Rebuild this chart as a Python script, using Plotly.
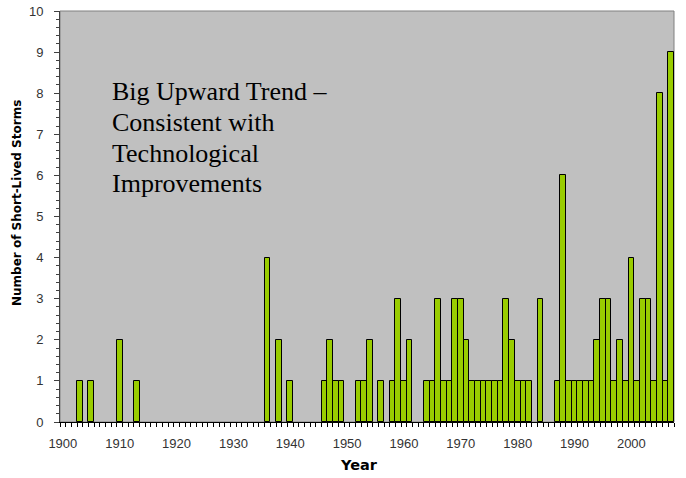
import plotly.graph_objects as go

years = [1903, 1905, 1910, 1913, 1936, 1938, 1940,
         1946, 1947, 1948, 1949, 1952, 1953, 1954, 1956, 1958, 1959, 1960, 1961,
         1964, 1965, 1966, 1967, 1968, 1969, 1970, 1971, 1972, 1973, 1974, 1975,
         1976, 1977, 1978, 1979, 1980, 1981, 1982, 1984,
         1987, 1988, 1989, 1990, 1991, 1992, 1993, 1994, 1995, 1996, 1997, 1998,
         1999, 2000, 2001, 2002, 2003, 2004, 2005, 2006, 2007]
storms = [1, 1, 2, 1, 4, 2, 1,
          1, 2, 1, 1, 1, 1, 2, 1, 1, 3, 1, 2,
          1, 1, 3, 1, 1, 3, 3, 2, 1, 1, 1, 1,
          1, 1, 3, 2, 1, 1, 1, 3,
          1, 6, 1, 1, 1, 1, 1, 2, 3, 3, 1, 2,
          1, 4, 1, 3, 3, 1, 8, 1, 9]
x_tick_labels = [1900, 1910, 1920, 1930, 1940, 1950, 1960, 1970, 1980, 1990, 2000]
y_tick_labels = list(range(0, 11))
note_lines = ["Big Upward Trend –", "Consistent with", "Technological", "Improvements"]

W, H = 686, 478
L, R, T, B = 60, 12, 11, 56
PW, PH = W - L - R, H - T - B

def px_x(p):
    return (p - L) / PW

def px_y(p):
    return 1 - (p - T) / PH

fig = go.Figure()
fig.add_trace(go.Bar(
    x=years, y=storms, width=1,
    marker=dict(color="#99CC00", line=dict(color="#000000", width=1)),
    hoverinfo="x+y",
))

fig.update_layout(
    width=W, height=H,
    margin=dict(l=L, r=R, t=T, b=B),
    paper_bgcolor="white",
    plot_bgcolor="#C0C0C0",
    showlegend=False,
    bargap=0,
    font=dict(family="Arial, Liberation Sans, sans-serif", size=13, color="#333333"),
)

fig.update_xaxes(
    range=[1899.5, 2007.5],
    tickvals=x_tick_labels,
    ticktext=[str(v) for v in x_tick_labels],
    ticks="",
    ticklabelstandoff=9,
    automargin=False,
    showgrid=False, zeroline=False,
    showline=True, linecolor="#000000", linewidth=1,
    tickfont=dict(size=13, color="#333333"),
    minor=dict(ticks="outside", tick0=1899.5, dtick=1, ticklen=4,
               tickcolor="#000000", tickwidth=1, showgrid=False),
)

fig.update_yaxes(
    range=[0, 10],
    tickvals=y_tick_labels,
    ticks="outside", ticklen=5, tickcolor="#404040",
    ticklabelstandoff=8,
    automargin=False,
    showgrid=False, zeroline=False,
    showline=True, linecolor="#404040", linewidth=1,
    tickfont=dict(size=13, color="#333333"),
    minor=dict(ticks="outside", dtick=0.2, ticklen=3, tickcolor="#404040",
               showgrid=False),
)

fig.add_shape(type="rect", xref="paper", yref="paper", x0=0, y0=0, x1=1, y1=1,
              line=dict(color="#808080", width=1), layer="below")

# axis titles
fig.add_annotation(
    xref="paper", yref="paper", x=px_x(17), y=px_y(203),
    xanchor="center", yanchor="middle", textangle=-90, showarrow=False,
    text="<b>Number of Short-Lived Storms</b>",
    font=dict(family="DejaVu Sans, Verdana, sans-serif", size=12, color="#000000"),
)
fig.add_annotation(
    xref="paper", yref="paper", x=px_x(359), y=px_y(465),
    xanchor="center", yanchor="middle", showarrow=False,
    text="<b>Year</b>",
    font=dict(family="DejaVu Sans, Verdana, sans-serif", size=14.5, color="#000000"),
)

# note text, one annotation per line
for i, line in enumerate(note_lines):
    fig.add_annotation(
        xref="paper", yref="paper", x=px_x(110), y=px_y(92 + 30.5 * i),
        xanchor="left", yanchor="middle", align="left", showarrow=False,
        text=line,
        font=dict(family="Liberation Serif, Times New Roman, serif", size=26, color="#000000"),
    )

fig.write_html("out.html", config={"displayModeBar": False},
               post_script="document.body.style.margin='0px';")
